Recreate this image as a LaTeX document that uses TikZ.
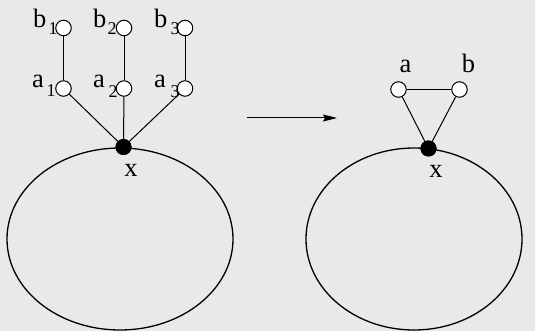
\documentclass[tikz,border=0pt]{standalone}
\usepackage{fontspec}
\setmainfont{Liberation Serif}
\usetikzlibrary{arrows.meta}
\definecolor{paper}{RGB}{233,233,233}
\tikzset{
  opennode/.style={circle,draw,fill=white,inner sep=0pt,minimum size=15.5pt,line width=1pt},
  blacknode/.style={circle,fill=black,inner sep=0pt,minimum size=16pt},
  lab/.style={inner sep=0pt,font=\fontsize{26.5}{26.5}\selectfont},
  sub/.style={inner sep=0pt,font=\fontsize{18}{18}\selectfont},
  edge/.style={line width=1pt},
  blob/.style={line width=1.3pt}
}
\begin{document}
\begin{tikzpicture}[x=1pt,y=-1pt]
\fill[paper] (0,0) rectangle (535,331);
\useasboundingbox (0,0) rectangle (535,331);
% left ellipse
\draw[blob] (120,239) ellipse [x radius=113, y radius=91];
\node[blacknode] (x1) at (123.5,147) {};
\node[lab,anchor=base] (lx1) at (131,177) {x};
\node[opennode] (b1) at (63.5,28) {};
\node[opennode] (b2) at (124,28) {};
\node[opennode] (b3) at (185,28) {};
\node[opennode] (a1) at (63.5,88.5) {};
\node[opennode] (a2) at (124,88.5) {};
\node[opennode] (a3) at (185,88.5) {};
\draw[edge] (b1) -- (a1);
\draw[edge] (b2) -- (a2);
\draw[edge] (b3) -- (a3);
\draw[edge] (a1) -- (x1.center);
\draw[edge] (a2) -- (x1.center);
\draw[edge] (a3) -- (x1.center);
\node[blacknode] at (x1) {};
% labels left
\node[lab,anchor=base west] (lb1) at (33,28) {b};
\node[sub,anchor=base west] (sb1) at (48.5,35) {1};
\node[lab,anchor=base west] (lb2) at (93,28) {b};
\node[sub,anchor=base west] (sb2) at (107.5,35) {2};
\node[lab,anchor=base west] (lb3) at (154,28) {b};
\node[sub,anchor=base west] (sb3) at (170.5,35) {3};
\node[lab,anchor=base west] (la1) at (32,88) {a};
\node[sub,anchor=base west] (sa1) at (46.5,97) {1};
\node[lab,anchor=base west] (la2) at (93,88) {a};
\node[sub,anchor=base west] (sa2) at (108.5,98) {2};
\node[lab,anchor=base west] (la3) at (154,88) {a};
\node[sub,anchor=base west] (sa3) at (170.5,98) {3};
% arrow
\coordinate (arS) at (247,118);
\coordinate (arE) at (337,118);
\draw[edge,-{Stealth[length=14pt,width=7pt,inset=2pt]}] (arS) -- (arE);
% right ellipse
\draw[blob] (414,239) ellipse [x radius=108, y radius=91];
\node[blacknode] (x2) at (428.5,148.5) {};
\node[lab,anchor=base] (lx2) at (436,178) {x};
\node[opennode] (a) at (398.5,89.5) {};
\node[opennode] (b) at (459.5,89.5) {};
\draw[edge] (a) -- (b);
\draw[edge] (a) -- (x2.center);
\draw[edge] (b) -- (x2.center);
\node[blacknode] at (x2) {};
\node[lab,anchor=base] (la) at (405.5,73) {a};
\node[lab,anchor=base] (lb) at (468.5,73) {b};
\end{tikzpicture}
\end{document}
